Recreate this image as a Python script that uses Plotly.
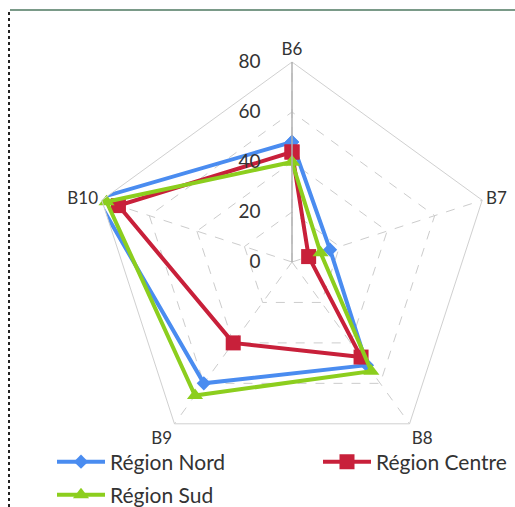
import plotly.graph_objects as go

categories = ["B6", "B7", "B8", "B9", "B10"]
nord = [48, 16, 51, 60, 82]
centre = [44, 7, 47, 40, 73]
sud = [40, 12, 54, 66, 78]
radial_ticks = [0, 20, 40, 60, 80]

W, H = 515, 507
cx, cy, R = 292, 262, 200  # centre and outer radius of the radar, in px

series = [
    ("Région Nord", nord, "#4a8cf0", "diamond", 11, "legend"),
    ("Région Centre", centre, "#c8203a", "square", 15, "legend2"),
    ("Région Sud", sud, "#8cce1e", "triangle-up", 14, "legend3"),
]

fig = go.Figure()
for name, vals, color, sym, size, leg in series:
    fig.add_trace(go.Scatterpolar(
        r=vals + vals[:1],
        theta=categories + categories[:1],
        mode="lines+markers",
        name=name,
        line=dict(color=color, width=4),
        marker=dict(color=color, symbol=sym, size=size),
        cliponaxis=False,
        legend=leg,
    ))

text_color = "#333333"
leg_font = dict(family="Lato, sans-serif", size=21, color=text_color)

fig.update_layout(
    width=W, height=H,
    margin=dict(l=0, r=0, t=0, b=0, autoexpand=False),
    paper_bgcolor="white",
    plot_bgcolor="white",
    showlegend=True,
    font=dict(family="Lato, sans-serif", size=18, color=text_color),
    polar=dict(
        domain=dict(x=[(cx - R) / W, (cx + R) / W],
                    y=[1 - (cy + R) / H, 1 - (cy - R) / H]),
        gridshape="linear",
        bgcolor="white",
        radialaxis=dict(
            range=[0, 80], tickvals=radial_ticks, angle=90,
            side="counterclockwise", showline=True, linecolor="#b0b0b0",
            linewidth=1.5, gridcolor="#cccccc", griddash="dash",
            ticks="outside", ticklen=24, tickcolor="rgba(0,0,0,0)",
            tickfont=dict(size=19, color=text_color),
            tickangle=90,
        ),
        angularaxis=dict(
            rotation=90, direction="clockwise", showline=True,
            linecolor="#d0d0d0", gridcolor="#cccccc", griddash="dash",
            ticks="", tickfont=dict(size=17, color=text_color),
        ),
    ),
    legend=dict(x=52 / W, y=1 - 462 / H, xanchor="left", yanchor="middle",
                itemwidth=48, bgcolor="rgba(0,0,0,0)", font=leg_font),
    legend2=dict(x=318 / W, y=1 - 462 / H, xanchor="left", yanchor="middle",
                 itemwidth=48, bgcolor="rgba(0,0,0,0)", font=leg_font),
    legend3=dict(x=52 / W, y=1 - 495 / H, xanchor="left", yanchor="middle",
                 itemwidth=48, bgcolor="rgba(0,0,0,0)", font=leg_font),
    shapes=[
        # chart frame: solid top edge, dotted left edge
        dict(type="line", xref="paper", yref="paper",
             x0=10 / W, x1=1, y0=1 - 10 / H, y1=1 - 10 / H,
             line=dict(color="#7a9a88", width=2)),
        dict(type="line", xref="paper", yref="paper",
             x0=9 / W, x1=9 / W, y0=0, y1=1 - 12 / H,
             line=dict(color="#222222", width=2, dash="dot")),
    ],
)

fig.write_html("out.html")
